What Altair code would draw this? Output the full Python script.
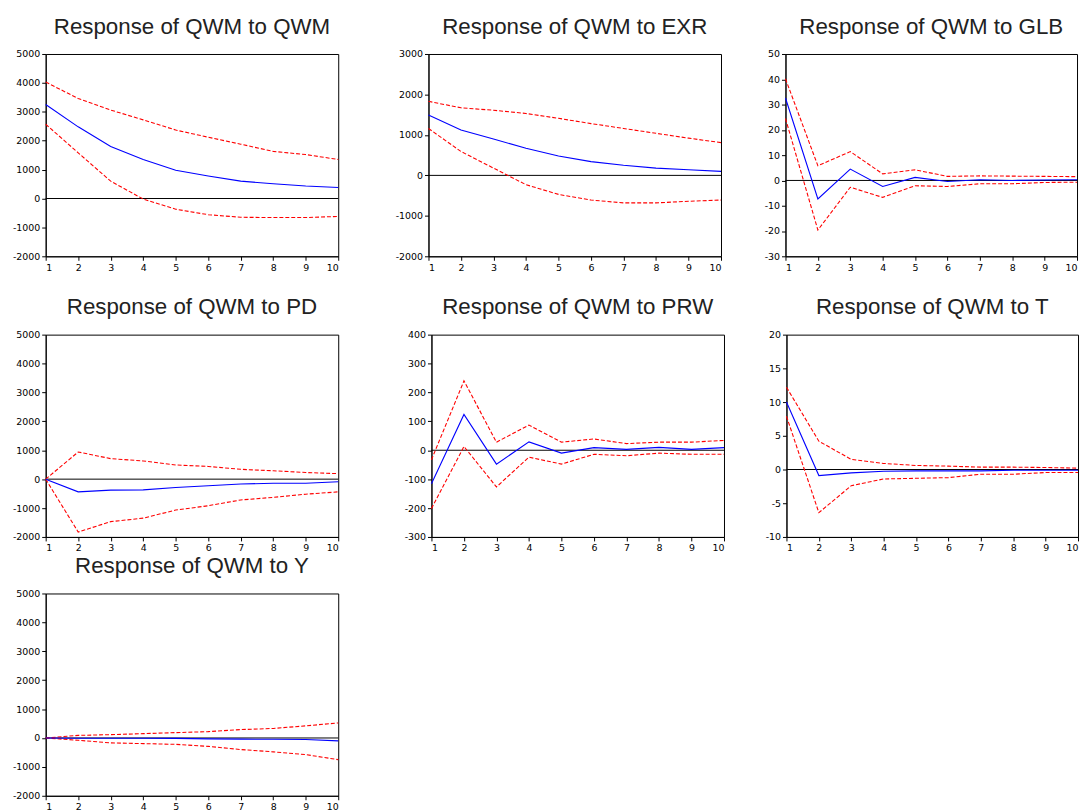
import altair as alt
import pandas as pd

steps = list(range(1, 11))

# Response of QWM to QWM
qwm_irf = [3250, 2480, 1800, 1350, 980, 780, 600, 510, 430, 380]
qwm_hi = [4030, 3460, 3060, 2720, 2370, 2120, 1880, 1630, 1520, 1350]
qwm_lo = [2570, 1580, 600, -20, -370, -560, -650, -660, -660, -620]

# Response of QWM to EXR
exr_irf = [1490, 1120, 900, 670, 480, 340, 250, 180, 140, 100]
exr_hi = [1830, 1670, 1610, 1530, 1410, 1280, 1160, 1040, 920, 810]
exr_lo = [1160, 590, 180, -230, -470, -610, -680, -680, -640, -610]

# Response of QWM to GLB
glb_irf = [32.6, -7.3, 4.5, -2.4, 1.2, -0.4, 0.3, 0.0, 0.2, 0.3]
glb_hi = [40.2, 5.8, 11.4, 2.6, 4.2, 1.6, 1.8, 1.7, 1.6, 1.5]
glb_lo = [24.5, -19.6, -2.7, -6.7, -2.1, -2.4, -1.3, -1.3, -0.8, -0.7]

# Response of QWM to PD
pd_irf = [0, -440, -380, -370, -290, -230, -170, -140, -140, -90]
pd_hi = [0, 940, 710, 630, 490, 440, 340, 290, 230, 190]
pd_lo = [0, -1830, -1470, -1350, -1070, -920, -720, -630, -520, -440]

# Response of QWM to PRW
prw_irf = [-116, 124, -48, 29, -10, 9, 3, 10, 3, 9]
prw_hi = [-33, 240, 28, 87, 28, 39, 23, 28, 28, 34]
prw_lo = [-202, 13, -127, -24, -48, -14, -19, -10, -14, -14]

# Response of QWM to T
t_irf = [10.0, -0.9, -0.5, -0.25, -0.2, -0.2, -0.2, -0.1, -0.1, -0.1]
t_hi = [12.2, 4.2, 1.5, 0.9, 0.6, 0.5, 0.35, 0.35, 0.3, 0.2]
t_lo = [7.9, -6.4, -2.4, -1.4, -1.3, -1.2, -0.7, -0.7, -0.45, -0.45]

# Response of QWM to Y
y_irf = [0, -10, -10, -10, -15, -30, -40, -45, -50, -100]
y_hi = [0, 90, 115, 150, 185, 220, 290, 330, 420, 520]
y_lo = [0, -80, -170, -195, -220, -290, -400, -480, -575, -750]

PLOT_H = 204


def panel(title, irf, lo, hi, ymin, ymax, ystep, width, pad_bottom=False):
    band_df = pd.DataFrame(
        {"step": steps * 2, "value": list(lo) + list(hi),
         "band": ["lo"] * len(steps) + ["hi"] * len(steps)}
    )
    irf_df = pd.DataFrame({"step": steps, "value": irf})
    zero_df = pd.DataFrame({"value": [0]})

    yvals = list(range(ymin, ymax + 1, ystep))
    if pad_bottom:
        xaxis = alt.Axis(values=steps, title=" ", titleFontSize=18, titlePadding=4,
                         labelExpr="datum.value + ''", labelOverlap=False)
    else:
        xaxis = alt.Axis(values=steps, title=None, labelExpr="datum.value + ''",
                         labelOverlap=False)
    x = alt.X("step:Q", scale=alt.Scale(domain=[1, 10], nice=False, zero=False), axis=xaxis)
    y = alt.Y("value:Q", scale=alt.Scale(domain=[ymin, ymax], nice=False, zero=False),
              axis=alt.Axis(values=yvals, title=None, labelExpr="datum.value + ''",
                            labelOverlap=False))

    zero = alt.Chart(zero_df).mark_rule(color="black", strokeWidth=1).encode(y=y)
    bands = alt.Chart(band_df).mark_line(color="#ff0000", strokeDash=[4, 2], strokeWidth=1.1).encode(
        x=x, y=y, detail="band:N"
    )
    line = alt.Chart(irf_df).mark_line(color="#0000ff", strokeWidth=1.1).encode(x=x, y=y)

    return alt.layer(zero, bands, line).properties(
        width=width, height=PLOT_H,
        title=alt.TitleParams(title, fontSize=22.5, font="Liberation Sans", fontWeight="normal",
                              color="#222222", offset=-7, baseline="alphabetic",
                              frame="group", anchor="middle"),
    )


p1 = panel("Response of QWM to QWM", qwm_irf, qwm_lo, qwm_hi, -2000, 5000, 1000, 295, True)
p2 = panel("Response of QWM to EXR", exr_irf, exr_lo, exr_hi, -2000, 3000, 1000, 295, True)
p3 = panel("Response of QWM to GLB", glb_irf, glb_lo, glb_hi, -30, 50, 10, 294, True)
p4 = panel("Response of QWM to PD", pd_irf, pd_lo, pd_hi, -2000, 5000, 1000, 295)
p5 = panel("Response of QWM to PRW", prw_irf, prw_lo, prw_hi, -300, 400, 100, 295)
p6 = panel("Response of QWM to T", t_irf, t_lo, t_hi, -10, 20, 5, 294)
p7 = panel("Response of QWM to Y", y_irf, y_lo, y_hi, -2000, 5000, 1000, 295)

row1 = alt.hconcat(p1, alt.hconcat(p2, p3, spacing=65, bounds="flush"), spacing=91, bounds="flush")
row2 = alt.hconcat(p4, alt.hconcat(p5, p6, spacing=63, bounds="flush"), spacing=94, bounds="flush")

chart = alt.vconcat(row1, row2, p7, spacing=2).properties(
    padding={"left": 3, "top": 4, "right": 0, "bottom": 0},
    background="white",
).configure_view(
    stroke="black", strokeWidth=1
).configure_axis(
    domainColor="black", tickColor="black", labelColor="black",
    labelFont="DejaVu Sans", labelFontSize=9.5, tickSize=4, labelPadding=2,
    grid=False, domainWidth=1,
)

chart.save("out.html", embed_options={"renderer": "svg", "actions": False})
